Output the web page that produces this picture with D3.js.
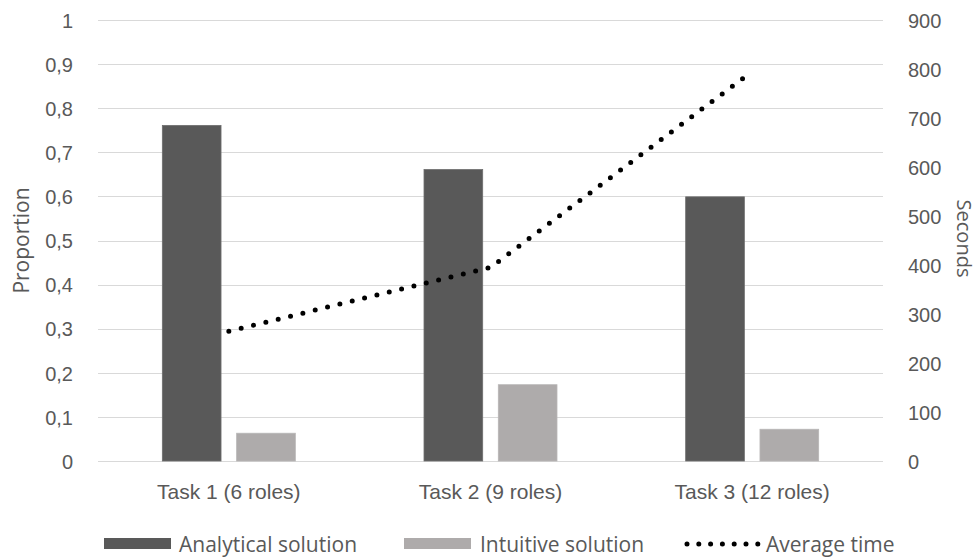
<!DOCTYPE html>
<html>
<head>
<meta charset="utf-8">
<script src="https://cdn.jsdelivr.net/npm/d3@7"></script>
<style>
  html, body { margin: 0; padding: 0; background: #fff; }
  svg { display: block; font-family: "Open Sans", sans-serif; }
</style>
</head>
<body>
<svg id="chart" width="979" height="557"></svg>
<script>
// Tasks along the x axis
const categories = ["Task 1 (6 roles)", "Task 2 (9 roles)", "Task 3 (12 roles)"];
// Share of participants per solution type (left axis)
const analytical = [0.761, 0.661, 0.599];
const intuitive = [0.063, 0.173, 0.072];
// Mean completion time in seconds (right axis)
const averageTime = [265, 395, 795];
// Axis ticks
const leftTicks = [0, 0.1, 0.2, 0.3, 0.4, 0.5, 0.6, 0.7, 0.8, 0.9, 1];
const rightTicks = [0, 100, 200, 300, 400, 500, 600, 700, 800, 900];
const seriesNames = ["Analytical solution", "Intuitive solution", "Average time"];

const colors = { analytical: "#595959", intuitive: "#aeabab", line: "#000000", text: "#595959", grid: "#d9d9d9" };

const svg = d3.select("#chart");
const margin = { left: 98, right: 96, top: 20, bottom: 96 };
const W = 979, H = 557;
const x0 = margin.left, x1 = W - margin.right;
const yTop = margin.top, yBot = H - margin.bottom;

const x = d3.scaleBand().domain(categories).range([x0, x1]).paddingInner(0).paddingOuter(0);
const xs = d3.scaleBand().domain(["analytical", "intuitive"]).range([-66.5, 66.5]).paddingInner(0.21).paddingOuter(0);
const yL = d3.scaleLinear().domain([0, 1]).range([yBot, yTop]);
const yR = d3.scaleLinear().domain([0, 900]).range([yBot, yTop]);

const fmtComma = d => d3.format("")(Math.round(d * 10) / 10).replace(".", ",");

// Gridlines from the left axis
svg.append("g")
  .selectAll("line").data(leftTicks).join("line")
  .attr("x1", x0).attr("x2", x1)
  .attr("y1", d => Math.round(yL(d)) + 0.5).attr("y2", d => Math.round(yL(d)) + 0.5)
  .attr("stroke", colors.grid).attr("stroke-width", 1);

// Left axis
const axL = svg.append("g").attr("transform", `translate(${x0 - 22},0)`)
  .call(d3.axisLeft(yL).tickValues(leftTicks).tickFormat(fmtComma).tickSize(0));
axL.select(".domain").remove();
axL.selectAll("text").attr("fill", colors.text).style("font-size", "20px").attr("dy", "0.36em");

// Right axis
const axR = svg.append("g").attr("transform", `translate(${x1 + 22},0)`)
  .call(d3.axisRight(yR).tickValues(rightTicks).tickFormat(d3.format("d")).tickSize(0));
axR.select(".domain").remove();
axR.selectAll("text").attr("fill", colors.text).style("font-size", "20px").attr("dy", "0.36em");

// Category axis
const axB = svg.append("g").attr("transform", `translate(0,${yBot})`)
  .call(d3.axisBottom(x).tickSize(0).tickPadding(23));
axB.select(".domain").remove();
axB.selectAll("text").attr("fill", colors.text).style("font-size", "21px");

// Axis titles
svg.append("text")
  .attr("transform", `translate(29,${(yTop + yBot) / 2}) rotate(-90)`)
  .attr("text-anchor", "middle").attr("fill", colors.text).style("font-size", "21px")
  .text("Proportion");
svg.append("text")
  .attr("transform", `translate(957,${(yTop + yBot) / 2 - 2}) rotate(90)`)
  .attr("text-anchor", "middle").attr("fill", colors.text).style("font-size", "20px")
  .text("Seconds");

// Bars
const groups = svg.append("g").selectAll("g").data(categories).join("g")
  .attr("transform", d => `translate(${x(d) + x.bandwidth() / 2},0)`);
groups.append("rect")
  .attr("x", xs("analytical")).attr("width", xs.bandwidth())
  .attr("y", (d, i) => yL(analytical[i])).attr("height", (d, i) => yBot - yL(analytical[i]))
  .attr("fill", colors.analytical).attr("stroke", "#6e6e6e").attr("stroke-width", 0.8);
groups.append("rect")
  .attr("x", xs("intuitive")).attr("width", xs.bandwidth())
  .attr("y", (d, i) => yL(intuitive[i])).attr("height", (d, i) => yBot - yL(intuitive[i]))
  .attr("fill", colors.intuitive).attr("stroke", "#b8b6b6").attr("stroke-width", 0.8);

// Average time line (round dots)
const line = d3.line()
  .x((d, i) => x(categories[i]) + x.bandwidth() / 2)
  .y(d => yR(d));
svg.append("path")
  .datum(averageTime)
  .attr("d", line)
  .attr("fill", "none").attr("stroke", colors.line)
  .attr("stroke-width", 5).attr("stroke-linecap", "round")
  .attr("stroke-dasharray", "0 12.7");

// Legend
const leg = svg.append("g").attr("transform", "translate(0,544)");
leg.append("rect").attr("x", 104).attr("y", -6).attr("width", 67).attr("height", 11).attr("fill", colors.analytical);
leg.append("text").attr("x", 179).attr("y", 0).attr("dy", "0.36em").attr("fill", colors.text).style("font-size", "21px").text(seriesNames[0]);
leg.append("rect").attr("x", 404).attr("y", -6).attr("width", 67).attr("height", 11).attr("fill", colors.intuitive);
leg.append("text").attr("x", 480).attr("y", 0).attr("dy", "0.36em").attr("fill", colors.text).style("font-size", "21px").text(seriesNames[1]);
leg.append("line").attr("x1", 687).attr("x2", 759).attr("y1", 0).attr("y2", 0)
  .attr("stroke", colors.line).attr("stroke-width", 5).attr("stroke-linecap", "round").attr("stroke-dasharray", "0 11.8");
leg.append("text").attr("x", 766).attr("y", 0).attr("dy", "0.36em").attr("fill", colors.text).style("font-size", "21px").text(seriesNames[2]);
</script>
</body>
</html>
